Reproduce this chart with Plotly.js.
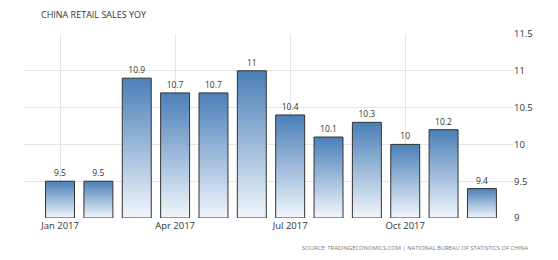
<!DOCTYPE html>
<html>
<head>
<meta charset="utf-8">
<script src="https://cdn.plot.ly/plotly-3.0.1.min.js"></script>
<style>
html,body{margin:0;padding:0;background:#fff;}
#chart{width:558px;height:260px;}
</style>
</head>
<body>
<div id="chart"></div>
<script>
var months = ["Jan 2017","Feb 2017","Mar 2017","Apr 2017","May 2017","Jun 2017","Jul 2017","Aug 2017","Sep 2017","Oct 2017","Nov 2017","Dec 2017"];
var values = [9.5, 9.5, 10.9, 10.7, 10.7, 11, 10.4, 10.1, 10.3, 10, 10.2, 9.4];
var tickLabels = ["Jan 2017","Apr 2017","Jul 2017","Oct 2017"];
var tickIndex = [0, 3, 6, 9];
var yTicks = [9, 9.5, 10, 10.5, 11, 11.5];
var yTickLabels = ["9","9.5","10","10.5","11","11.5"];
var baseValue = 9;

var xs = months.map(function(m, i){ return i; });
var heights = values.map(function(v){ return v - baseValue; });
var labels = values.map(function(v){ return String(v); });

var font = "Open Sans, DejaVu Sans, sans-serif";

var trace = {
  type: "bar",
  x: xs,
  y: heights,
  base: baseValue,
  width: 0.755,
  text: labels,
  textposition: "outside",
  texttemplate: "%{text}",
  textfont: {family: font, size: 8.5, color: "#333"},
  cliponaxis: false,
  marker: {color: "#7aa3cf", line: {color: "#333333", width: 1}},
  hoverinfo: "none"
};

var layout = {
  width: 558, height: 260,
  margin: {l: 24, r: 45, t: 34, b: 42},
  paper_bgcolor: "#fff", plot_bgcolor: "#fff",
  showlegend: false,
  title: {text: "CHINA RETAIL SALES YOY", x: 41/558, xanchor: "left", y: 1 - 15/260, yanchor: "middle",
          font: {family: font, size: 9, color: "#333"}},
  xaxis: {
    range: [-0.94, 11.81],
    tickmode: "array", tickvals: tickIndex, ticktext: tickLabels,
    showgrid: true, gridcolor: "#e6e6e6", gridwidth: 1,
    zeroline: false, showline: false, ticks: "",
    tickfont: {family: font, size: 9.5, color: "#333"},
    fixedrange: true
  },
  yaxis: {
    range: [9, 11.5], side: "right",
    tickmode: "array", tickvals: yTicks, ticktext: yTickLabels,
    showgrid: true, gridcolor: "#e6e6e6", gridwidth: 1,
    zeroline: false, showline: false, ticks: "",
    tickfont: {family: font, size: 9.5, color: "#333"},
    fixedrange: true
  },
  annotations: [{
    text: "SOURCE: TRADINGECONOMICS.COM | NATIONAL BUREAU OF STATISTICS OF CHINA",
    xref: "paper", yref: "paper",
    x: (530-24)/489, xanchor: "right",
    y: -(248-218)/184, yanchor: "middle",
    showarrow: false,
    font: {family: font, size: 5.8, color: "#777"}
  }]
};

Plotly.newPlot("chart", [trace], layout, {displayModeBar: false, staticPlot: true}).then(function(gd){
  var svg = gd.querySelector("svg.main-svg");
  var ns = "http://www.w3.org/2000/svg";
  var defs = svg.querySelector("defs");
  if (!defs) { defs = document.createElementNS(ns, "defs"); svg.insertBefore(defs, svg.firstChild); }
  var grad = document.createElementNS(ns, "linearGradient");
  grad.setAttribute("id", "barGrad");
  grad.setAttribute("x1", "0"); grad.setAttribute("y1", "0");
  grad.setAttribute("x2", "0"); grad.setAttribute("y2", "1");
  [["0%", "#4a7fb8"], ["100%", "#f1f6fc"]].forEach(function(s){
    var st = document.createElementNS(ns, "stop");
    st.setAttribute("offset", s[0]); st.setAttribute("stop-color", s[1]);
    grad.appendChild(st);
  });
  defs.appendChild(grad);
  gd.querySelectorAll(".trace.bars .point path").forEach(function(p){
    p.style.fill = "url(#barGrad)";
  });
});
</script>
</body>
</html>
